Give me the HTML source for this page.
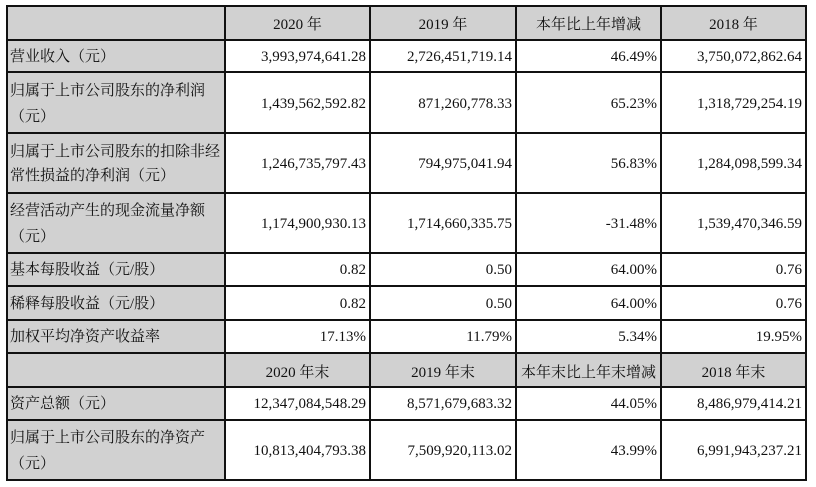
<!DOCTYPE html>
<html>
<head>
<meta charset="utf-8">
<style>
  html,body{margin:0;padding:0;background:#fff;}
  body{width:816px;height:487px;position:relative;overflow:hidden;
       font-family:"Liberation Serif","Noto Serif CJK SC",serif;color:#111;}
  .c{position:absolute;display:flex;align-items:center;box-sizing:border-box;font-size:15px;white-space:nowrap;}
  .g{background:#d1d1d1;}
  .lab{padding-left:3px;letter-spacing:0;font-size:15px;line-height:25px;}
  .num{justify-content:flex-end;padding-right:4px;}
  .hd{justify-content:center;}
  .hl{position:absolute;height:2px;background:#111;}
  .vl{position:absolute;width:2px;background:#111;}
</style>
</head>
<body>
<!-- header row 1 -->
<div class="c g" style="left:7px;top:6px;width:218px;height:34px;"></div>
<div class="c g hd" style="left:225px;top:6px;width:145px;height:34px;">2020 年</div>
<div class="c g hd" style="left:370px;top:6px;width:146px;height:34px;">2019 年</div>
<div class="c g hd" style="left:516px;top:6px;width:145px;height:34px;">本年比上年增减</div>
<div class="c g hd" style="left:661px;top:6px;width:145px;height:34px;">2018 年</div>

<!-- row 1 -->
<div class="c g lab" style="left:7px;top:40px;width:218px;height:32px;padding-top:3px;">营业收入（元）</div>
<div class="c num" style="left:225px;top:40px;width:145px;height:32px;padding-top:3px;">3,993,974,641.28</div>
<div class="c num" style="left:370px;top:40px;width:146px;height:32px;padding-top:3px;">2,726,451,719.14</div>
<div class="c num" style="left:516px;top:40px;width:145px;height:32px;padding-top:3px;">46.49%</div>
<div class="c num" style="left:661px;top:40px;width:145px;height:32px;padding-top:3px;">3,750,072,862.64</div>

<!-- row 2 -->
<div class="c g lab" style="left:7px;top:72px;width:218px;height:61px;line-height:26px;padding-top:2px;">归属于上市公司股东的净利润<br>（元）</div>
<div class="c num" style="left:225px;top:72px;width:145px;height:61px;padding-top:4px;">1,439,562,592.82</div>
<div class="c num" style="left:370px;top:72px;width:146px;height:61px;padding-top:4px;">871,260,778.33</div>
<div class="c num" style="left:516px;top:72px;width:145px;height:61px;padding-top:4px;">65.23%</div>
<div class="c num" style="left:661px;top:72px;width:145px;height:61px;padding-top:4px;">1,318,729,254.19</div>

<!-- row 3 -->
<div class="c g lab" style="left:7px;top:133px;width:218px;height:60px;line-height:24px;padding-top:2px;">归属于上市公司股东的扣除非经<br>常性损益的净利润（元）</div>
<div class="c num" style="left:225px;top:133px;width:145px;height:60px;padding-top:3px;">1,246,735,797.43</div>
<div class="c num" style="left:370px;top:133px;width:146px;height:60px;padding-top:3px;">794,975,041.94</div>
<div class="c num" style="left:516px;top:133px;width:145px;height:60px;padding-top:3px;">56.83%</div>
<div class="c num" style="left:661px;top:133px;width:145px;height:60px;padding-top:3px;">1,284,098,599.34</div>

<!-- row 4 -->
<div class="c g lab" style="left:7px;top:193px;width:218px;height:60px;line-height:26px;padding-top:2px;">经营活动产生的现金流量净额<br>（元）</div>
<div class="c num" style="left:225px;top:193px;width:145px;height:60px;padding-top:3px;">1,174,900,930.13</div>
<div class="c num" style="left:370px;top:193px;width:146px;height:60px;padding-top:3px;">1,714,660,335.75</div>
<div class="c num" style="left:516px;top:193px;width:145px;height:60px;padding-top:3px;">-31.48%</div>
<div class="c num" style="left:661px;top:193px;width:145px;height:60px;padding-top:3px;">1,539,470,346.59</div>

<!-- row 5 -->
<div class="c g lab" style="left:7px;top:253px;width:218px;height:33px;padding-top:2px;">基本每股收益（元/股）</div>
<div class="c num" style="left:225px;top:253px;width:145px;height:33px;padding-top:2px;">0.82</div>
<div class="c num" style="left:370px;top:253px;width:146px;height:33px;padding-top:2px;">0.50</div>
<div class="c num" style="left:516px;top:253px;width:145px;height:33px;padding-top:2px;">64.00%</div>
<div class="c num" style="left:661px;top:253px;width:145px;height:33px;padding-top:2px;">0.76</div>

<!-- row 6 -->
<div class="c g lab" style="left:7px;top:286px;width:218px;height:34px;padding-top:2px;">稀释每股收益（元/股）</div>
<div class="c num" style="left:225px;top:286px;width:145px;height:34px;padding-top:2px;">0.82</div>
<div class="c num" style="left:370px;top:286px;width:146px;height:34px;padding-top:2px;">0.50</div>
<div class="c num" style="left:516px;top:286px;width:145px;height:34px;padding-top:2px;">64.00%</div>
<div class="c num" style="left:661px;top:286px;width:145px;height:34px;padding-top:2px;">0.76</div>

<!-- row 7 -->
<div class="c g lab" style="left:7px;top:320px;width:218px;height:33px;padding-top:2px;">加权平均净资产收益率</div>
<div class="c num" style="left:225px;top:320px;width:145px;height:33px;padding-top:2px;">17.13%</div>
<div class="c num" style="left:370px;top:320px;width:146px;height:33px;padding-top:2px;">11.79%</div>
<div class="c num" style="left:516px;top:320px;width:145px;height:33px;padding-top:2px;">5.34%</div>
<div class="c num" style="left:661px;top:320px;width:145px;height:33px;padding-top:2px;">19.95%</div>

<!-- header row 2 -->
<div class="c g" style="left:7px;top:353px;width:218px;height:34px;"></div>
<div class="c g hd" style="left:225px;top:353px;width:145px;height:34px;padding-top:2px;">2020 年末</div>
<div class="c g hd" style="left:370px;top:353px;width:146px;height:34px;padding-top:2px;">2019 年末</div>
<div class="c g hd" style="left:516px;top:353px;width:145px;height:34px;padding-top:2px;">本年末比上年末增减</div>
<div class="c g hd" style="left:661px;top:353px;width:145px;height:34px;padding-top:2px;">2018 年末</div>

<!-- row 8 -->
<div class="c g lab" style="left:7px;top:387px;width:218px;height:33px;padding-top:2px;">资产总额（元）</div>
<div class="c num" style="left:225px;top:387px;width:145px;height:33px;padding-top:2px;">12,347,084,548.29</div>
<div class="c num" style="left:370px;top:387px;width:146px;height:33px;padding-top:2px;">8,571,679,683.32</div>
<div class="c num" style="left:516px;top:387px;width:145px;height:33px;padding-top:2px;">44.05%</div>
<div class="c num" style="left:661px;top:387px;width:145px;height:33px;padding-top:2px;">8,486,979,414.21</div>

<!-- row 9 -->
<div class="c g lab" style="left:7px;top:420px;width:218px;height:60px;line-height:26px;padding-top:2px;">归属于上市公司股东的净资产<br>（元）</div>
<div class="c num" style="left:225px;top:420px;width:145px;height:60px;padding-top:2px;">10,813,404,793.38</div>
<div class="c num" style="left:370px;top:420px;width:146px;height:60px;padding-top:2px;">7,509,920,113.02</div>
<div class="c num" style="left:516px;top:420px;width:145px;height:60px;padding-top:2px;">43.99%</div>
<div class="c num" style="left:661px;top:420px;width:145px;height:60px;padding-top:2px;">6,991,943,237.21</div>

<!-- horizontal lines -->
<div class="hl" style="left:6px;width:801px;top:5px;"></div>
<div class="hl" style="left:6px;width:801px;top:39px;"></div>
<div class="hl" style="left:6px;width:801px;top:71px;"></div>
<div class="hl" style="left:6px;width:801px;top:132px;"></div>
<div class="hl" style="left:6px;width:801px;top:192px;"></div>
<div class="hl" style="left:6px;width:801px;top:252px;"></div>
<div class="hl" style="left:6px;width:801px;top:285px;"></div>
<div class="hl" style="left:6px;width:801px;top:319px;"></div>
<div class="hl" style="left:6px;width:801px;top:352px;"></div>
<div class="hl" style="left:6px;width:801px;top:386px;"></div>
<div class="hl" style="left:6px;width:801px;top:419px;"></div>
<div class="hl" style="left:6px;width:801px;top:479px;"></div>

<!-- vertical lines -->
<div class="vl" style="left:6px;top:5px;height:476px;"></div>
<div class="vl" style="left:224px;top:5px;height:476px;"></div>
<div class="vl" style="left:369px;top:5px;height:476px;"></div>
<div class="vl" style="left:515px;top:5px;height:476px;"></div>
<div class="vl" style="left:660px;top:5px;height:476px;"></div>
<div class="vl" style="left:805px;top:5px;height:476px;"></div>
</body>
</html>
